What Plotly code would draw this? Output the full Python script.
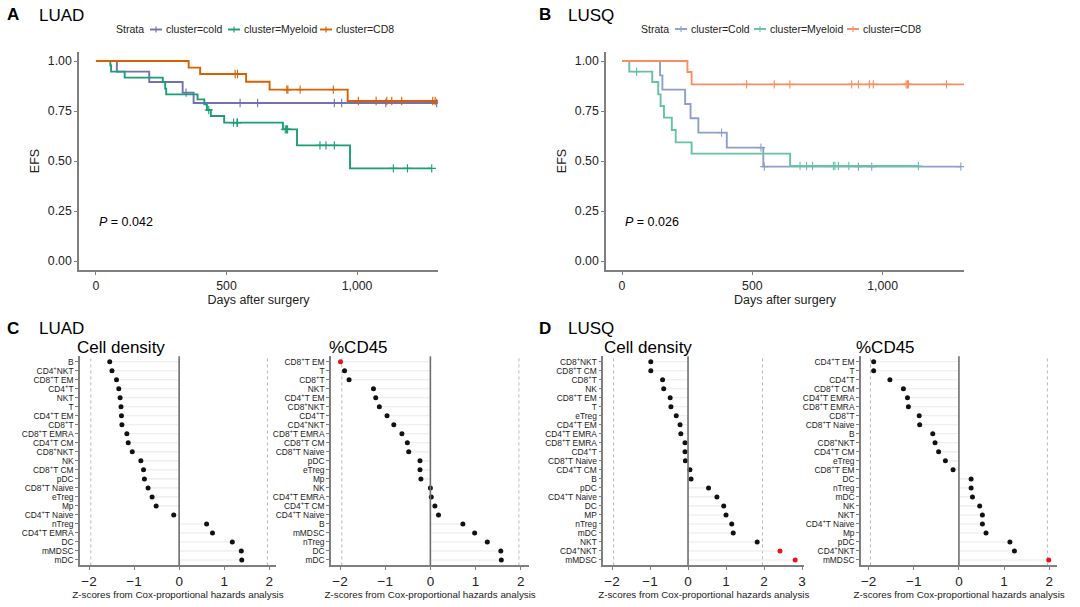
import plotly.graph_objects as go

W, H = 1080, 607
FONT = "Liberation Sans, Arial, sans-serif"

# ---------------- Kaplan-Meier data ----------------
strata_labels_A = ["cluster=cold", "cluster=Myeloid", "cluster=CD8"]
strata_labels_B = ["cluster=Cold", "cluster=Myeloid", "cluster=CD8"]

luad_cold_t = [0, 80, 204, 332, 374]
luad_cold_s = [1.0, 0.947, 0.895, 0.842, 0.790]
luad_cold_end = 1309
luad_cold_cens = [345, 552, 619, 913, 941, 1110, 1305]

luad_mye_t = [0, 55, 58, 110, 256, 265, 269, 389, 415, 425, 440, 491, 716, 770, 973]
luad_mye_s = [1.0, 0.978, 0.947, 0.917, 0.895, 0.862, 0.833, 0.808, 0.783, 0.755,
              0.725, 0.692, 0.658, 0.578, 0.463]
luad_mye_end = 1286
luad_mye_cens = [432, 527, 540, 542, 725, 730, 734, 858, 881, 913, 1139, 1193, 1286]

luad_cd8_t = [0, 355, 399, 575, 665, 964]
luad_cd8_s = [1.0, 0.967, 0.935, 0.896, 0.857, 0.800]
luad_cd8_end = 1309
luad_cd8_cens = [533, 542, 731, 735, 782, 909, 1005, 1073, 1114, 1133, 1171, 1290, 1299]

lusq_cold_t = [0, 146, 155, 242, 263, 293, 402, 542]
lusq_cold_s = [1.0, 0.928, 0.857, 0.785, 0.714, 0.642, 0.567, 0.472]
lusq_cold_end = 1300
lusq_cold_cens = [382, 533, 546, 907, 958, 1300]

lusq_mye_t = [0, 28, 116, 139, 148, 161, 191, 206, 267, 645]
lusq_mye_s = [1.0, 0.947, 0.895, 0.833, 0.775, 0.717, 0.655, 0.593, 0.537, 0.475]
lusq_mye_end = 1140
lusq_mye_cens = [56, 683, 708, 731, 811, 817, 830, 870, 1137]

lusq_cd8_t = [0, 251, 267]
lusq_cd8_s = [1.0, 0.945, 0.883]
lusq_cd8_end = 1312
lusq_cd8_cens = [478, 584, 644, 881, 907, 949, 964, 1090, 1095, 1099, 1245]

p_luad = "0.042"
p_lusq = "0.026"

km_yticks = [0, 0.25, 0.5, 0.75, 1.0]
km_yticklabels = ["0.00", "0.25", "0.50", "0.75", "1.00"]
km_xticks = [0, 500, 1000]
km_xticklabels = ["0", "500", "1,000"]

# ---------------- Cox z-score data ----------------
Z_CRIT = 1.96

c_dens_cats = ["B", "CD4<sup>+</sup>NKT", "CD8<sup>+</sup>T EM", "CD4<sup>+</sup>T", "NKT", "T",
               "CD4<sup>+</sup>T EM", "CD8<sup>+</sup>T", "CD8<sup>+</sup>T EMRA", "CD4<sup>+</sup>T CM",
               "CD8<sup>+</sup>NKT", "NK", "CD8<sup>+</sup>T CM", "pDC", "CD8<sup>+</sup>T Naive",
               "eTreg", "Mp", "CD4<sup>+</sup>T Naive", "nTreg", "CD4<sup>+</sup>T EMRA", "DC",
               "mMDSC", "mDC"]
c_dens_vals = [-1.54, -1.49, -1.39, -1.34, -1.31, -1.29, -1.28, -1.27, -1.16, -1.13, -1.04,
               -0.85, -0.79, -0.77, -0.69, -0.60, -0.51, -0.12, 0.61, 0.74, 1.18, 1.38, 1.39]

c_cd45_cats = ["CD8<sup>+</sup>T EM", "T", "CD8<sup>+</sup>T", "NKT", "CD4<sup>+</sup>T EM",
               "CD8<sup>+</sup>NKT", "CD4<sup>+</sup>T", "CD4<sup>+</sup>NKT", "CD8<sup>+</sup>T EMRA",
               "CD8<sup>+</sup>T CM", "CD8<sup>+</sup>T Naive", "pDC", "eTreg", "Mp", "NK",
               "CD4<sup>+</sup>T EMRA", "CD4<sup>+</sup>T CM", "CD4<sup>+</sup>T Naive", "B",
               "mMDSC", "nTreg", "DC", "mDC"]
c_cd45_vals = [-1.99, -1.90, -1.80, -1.26, -1.21, -1.13, -0.96, -0.81, -0.63, -0.51, -0.48,
               -0.23, -0.23, -0.21, 0.0, 0.02, 0.10, 0.18, 0.72, 0.98, 1.26, 1.56, 1.57]

d_dens_cats = ["CD8<sup>+</sup>NKT", "CD8<sup>+</sup>T CM", "CD8<sup>+</sup>T", "NK",
               "CD8<sup>+</sup>T EM", "T", "eTreg", "CD4<sup>+</sup>T EM", "CD4<sup>+</sup>T EMRA",
               "CD8<sup>+</sup>T EMRA", "CD4<sup>+</sup>T", "CD8<sup>+</sup>T Naive",
               "CD4<sup>+</sup>T CM", "B", "pDC", "CD4<sup>+</sup>T Naive", "DC", "MP", "nTreg",
               "mDC", "NKT", "CD4<sup>+</sup>NKT", "mMDSC"]
d_dens_vals = [-0.98, -0.98, -0.67, -0.64, -0.47, -0.45, -0.31, -0.21, -0.19, -0.08, -0.08,
               -0.07, 0.05, 0.08, 0.54, 0.76, 0.94, 1.00, 1.15, 1.19, 1.82, 2.42, 2.82]

d_cd45_cats = ["CD4<sup>+</sup>T EM", "T", "CD4<sup>+</sup>T", "CD8<sup>+</sup>T CM",
               "CD4<sup>+</sup>T EMRA", "CD8<sup>+</sup>T EMRA", "CD8<sup>+</sup>T",
               "CD8<sup>+</sup>T Naive", "B", "CD8<sup>+</sup>NKT", "CD4<sup>+</sup>T CM", "eTreg",
               "CD8<sup>+</sup>T EM", "DC", "nTreg", "mDC", "NK", "NKT", "CD4<sup>+</sup>T Naive",
               "Mp", "pDC", "CD4<sup>+</sup>NKT", "mMDSC"]
d_cd45_vals = [-1.89, -1.89, -1.53, -1.23, -1.14, -1.12, -0.88, -0.87, -0.58, -0.53, -0.45,
               -0.30, -0.13, 0.27, 0.27, 0.30, 0.46, 0.52, 0.52, 0.60, 1.13, 1.23, 1.99]

z_ticks = [-2, -1, 0, 1, 2, 3]

# ---------------- styling ----------------
COL_A = ["#7570B3", "#1B9E77", "#D95F02"]
COL_B = ["#8DA0CB", "#66C2A5", "#FC8D62"]
AXIS_COL = "#7F7F7F"
TXT = "#222222"


def xdom(a, b):
    return [a / W, b / W]


def ydom(top, bottom):
    return [1 - bottom / H, 1 - top / H]


def surv_at(times, surv, t):
    s = surv[0]
    for ti, si in zip(times, surv):
        if ti <= t:
            s = si
    return s


fig = go.Figure()


def km_curve(times, surv, end, cens, color, xa, ya, name):
    fig.add_trace(go.Scatter(
        x=list(times) + [end], y=list(surv) + [surv[-1]], mode="lines", name=name,
        line=dict(color=color, width=1.9, shape="hv"),
        xaxis=xa, yaxis=ya, showlegend=False, hoverinfo="skip"))
    fig.add_trace(go.Scatter(
        x=cens, y=[surv_at(times, surv, c) for c in cens], mode="markers", name=name,
        marker=dict(symbol="cross-thin", size=6, line=dict(color=color, width=1.1)),
        xaxis=xa, yaxis=ya, showlegend=False, hoverinfo="skip"))


# Panel A
km_curve(luad_cold_t, luad_cold_s, luad_cold_end, luad_cold_cens, COL_A[0], "x", "y", strata_labels_A[0])
km_curve(luad_mye_t, luad_mye_s, luad_mye_end, luad_mye_cens, COL_A[1], "x", "y", strata_labels_A[1])
km_curve(luad_cd8_t, luad_cd8_s, luad_cd8_end, luad_cd8_cens, COL_A[2], "x", "y", strata_labels_A[2])
# Panel B
km_curve(lusq_cold_t, lusq_cold_s, lusq_cold_end, lusq_cold_cens, COL_B[0], "x2", "y2", strata_labels_B[0])
km_curve(lusq_mye_t, lusq_mye_s, lusq_mye_end, lusq_mye_cens, COL_B[1], "x2", "y2", strata_labels_B[1])
km_curve(lusq_cd8_t, lusq_cd8_s, lusq_cd8_end, lusq_cd8_cens, COL_B[2], "x2", "y2", strata_labels_B[2])

shapes = []
ann = []


def text(x, y, s, size, bold=False, anchor="left", color="#000000"):
    ann.append(dict(x=x / W, y=1 - y / H, xref="paper", yref="paper",
                    text=f"<b>{s}</b>" if bold else s,
                    showarrow=False, xanchor=anchor, yanchor="middle", borderpad=0,
                    font=dict(size=size, color=color, family=FONT)))


def legend_block(title_x, key_xs, labels, colors, y):
    # compact ggplot-like legend: title, then key + label per stratum
    text(title_x - 1, y, "Strata", 10.5, color=TXT)
    for kx, lab, col in zip(key_xs, labels, colors):
        shapes.append(dict(type="line", xref="paper", yref="paper",
                           x0=kx / W, x1=(kx + 12) / W, y0=1 - y / H, y1=1 - y / H,
                           line=dict(color=col, width=1.9)))
        shapes.append(dict(type="line", xref="paper", yref="paper",
                           x0=(kx + 6) / W, x1=(kx + 6) / W, y0=1 - (y - 3) / H, y1=1 - (y + 3) / H,
                           line=dict(color=col, width=1.1)))
        text(kx + 15, y, lab, 10.5, color=TXT)


legend_block(116, [150, 228, 320], strata_labels_A, COL_A, 29.5)
legend_block(641, [675, 754, 847], strata_labels_B, COL_B, 29)


def lollipop(cats, vals, n):
    xa, ya = f"x{n}", f"y{n}"
    lx, ly = [], []
    for c, v in zip(cats, vals):
        lx += [0, v, None]
        ly += [c, c, None]
    fig.add_trace(go.Scatter(x=lx, y=ly, mode="lines", line=dict(color="#EAEAEA", width=1.1),
                             xaxis=xa, yaxis=ya, showlegend=False, hoverinfo="skip"))
    colors = ["#E8141B" if abs(v) > Z_CRIT else "#111111" for v in vals]
    fig.add_trace(go.Scatter(x=vals, y=cats, mode="markers",
                             marker=dict(color=colors, size=5),
                             xaxis=xa, yaxis=ya, showlegend=False, hoverinfo="skip"))
    for zc in (-Z_CRIT, Z_CRIT):
        shapes.append(dict(type="line", xref=xa, yref=f"{ya} domain", x0=zc, x1=zc, y0=0, y1=1,
                           line=dict(color="#B8B8B8", width=1, dash="dot"), layer="below"))
    shapes.append(dict(type="line", xref=xa, yref=f"{ya} domain", x0=0, x1=0, y0=0, y1=1,
                       line=dict(color="#6E6E6E", width=1.6), layer="above"))


lollipop(c_dens_cats, c_dens_vals, 3)
lollipop(c_cd45_cats, c_cd45_vals, 4)
lollipop(d_dens_cats, d_dens_vals, 5)
lollipop(d_cd45_cats, d_cd45_vals, 6)

km_y = ydom(52, 270)
common_axis = dict(showline=True, linecolor=AXIS_COL, linewidth=1.6, ticks="outside",
                   tickcolor=AXIS_COL, ticklen=3, tickwidth=1, showgrid=False, zeroline=False,
                   mirror=False)

layout = dict(
    width=W, height=H, margin=dict(l=0, r=0, t=0, b=0), showlegend=False,
    paper_bgcolor="white", plot_bgcolor="white",
    font=dict(family=FONT, color=TXT),
    xaxis=dict(domain=xdom(79, 438), anchor="y", range=[-65, 1310], tickvals=km_xticks,
               ticktext=km_xticklabels, tickfont=dict(size=12.3, color=TXT),
               title=dict(text="Days after surgery", font=dict(size=12.5), standoff=2),
               **common_axis),
    yaxis=dict(domain=km_y, anchor="x", range=[-0.045, 1.045], tickvals=km_yticks,
               ticktext=km_yticklabels, tickfont=dict(size=12.3, color=TXT),
               title=dict(text="EFS", font=dict(size=12.5), standoff=5), **common_axis),
    xaxis2=dict(domain=xdom(606, 964), anchor="y2", range=[-61.4, 1312], tickvals=km_xticks,
                ticktext=km_xticklabels, tickfont=dict(size=12.3, color=TXT),
                title=dict(text="Days after surgery", font=dict(size=12.5), standoff=2),
                **common_axis),
    yaxis2=dict(domain=km_y, anchor="x2", range=[-0.045, 1.045], tickvals=km_yticks,
                ticktext=km_yticklabels, tickfont=dict(size=12.3, color=TXT),
                title=dict(text="EFS", font=dict(size=12.5), standoff=5), **common_axis),
)

lol_y = ydom(356.3, 565.4)
lol_specs = [
    (3, xdom(80, 276), [-2.2, 2.15], c_dens_cats),
    (4, xdom(331, 529.3), [-2.2, 2.19], c_cd45_cats),
    (5, xdom(603.3, 804.3), [-2.23, 3.06], d_dens_cats),
    (6, xdom(861, 1057.3), [-2.17, 2.18], d_cd45_cats),
]
for n, xd, xr, cats in lol_specs:
    layout[f"xaxis{n}"] = dict(domain=xd, anchor=f"y{n}", range=xr, tickvals=z_ticks,
                               tickfont=dict(size=13.5, color=TXT),
                               title=dict(text="Z-scores from Cox-proportional hazards analysis",
                                          font=dict(size=9.8), standoff=1),
                               **common_axis)
    layout[f"yaxis{n}"] = dict(domain=lol_y, anchor=f"x{n}", type="category",
                               categoryorder="array", categoryarray=cats,
                               tickmode="array", tickvals=cats, ticktext=cats,
                               range=[len(cats) - 1 + 0.6, -0.6],
                               tickfont=dict(size=8.4, color=TXT), **common_axis)

fig.update_layout(**layout)

text(6, 14, "A", 17, bold=True)
text(38, 15, "LUAD", 17)
text(538, 14, "B", 17, bold=True)
text(567, 15, "LUSQ", 17)
text(6, 329, "C", 17, bold=True)
text(38, 329, "LUAD", 17)
text(538, 329, "D", 17, bold=True)
text(567, 329, "LUSQ", 17)
text(76, 347, "Cell density", 17)
text(328, 347, "%CD45", 17)
text(603, 347, "Cell density", 17)
text(855, 347, "%CD45", 17)
text(98, 222, f"<i>P</i> = {p_luad}", 12.5)
text(624, 222, f"<i>P</i> = {p_lusq}", 12.5)

fig.update_layout(annotations=ann, shapes=shapes)
fig.write_html("out.html", config={"displayModeBar": False},
               post_script="document.body.style.margin='0';document.body.style.padding='0';")
